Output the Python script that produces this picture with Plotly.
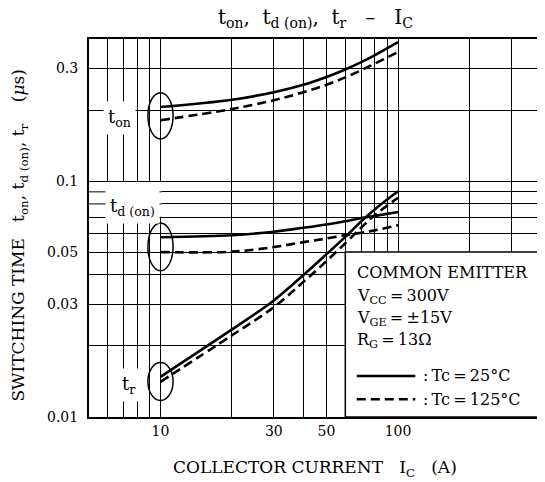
import numpy as np
import plotly.graph_objects as go

# ---- data ----
ic = [10, 20, 30, 40, 50, 60, 70, 80, 100]
t_on_25 = [0.206, 0.221, 0.238, 0.256, 0.276, 0.297, 0.319, 0.342, 0.388]
t_on_125 = [0.181, 0.202, 0.220, 0.238, 0.256, 0.275, 0.295, 0.315, 0.352]
td_on_25 = [0.0578, 0.0589, 0.0610, 0.0634, 0.0655, 0.0676, 0.0697, 0.0712, 0.0739]
td_on_125 = [0.0500, 0.0502, 0.0525, 0.0551, 0.0571, 0.0590, 0.0604, 0.0618, 0.0650]
tr_25 = [0.0148, 0.0235, 0.0312, 0.0400, 0.0490, 0.0580, 0.0675, 0.0760, 0.0905]
tr_125 = [0.0141, 0.0222, 0.0292, 0.0374, 0.0458, 0.0545, 0.0635, 0.0718, 0.0850]

x_tick_vals = [10, 30, 50, 100]
x_tick_text = ["10", "30", "50", "100"]
x_minor_grid = [6, 7, 8, 9, 20, 40, 60, 70, 80, 90, 200, 300]
y_tick_vals = [0.01, 0.03, 0.05, 0.1, 0.3]
y_tick_text = ["0.01", "0.03", "0.05", "0.1", "0.3"]
y_minor_grid = [0.02, 0.04, 0.06, 0.07, 0.08, 0.09, 0.2]

FONT = "DejaVu Serif"
SOLID_W = 2.6
DASH = "9px,5px"

fig = go.Figure()
groups = [(t_on_25, t_on_125), (td_on_25, td_on_125), (tr_25, tr_125)]
for s25, s125 in groups:
    fig.add_trace(go.Scatter(x=ic, y=s25, mode="lines",
                             line=dict(color="black", width=SOLID_W, shape="spline", smoothing=1.0),
                             showlegend=False, hoverinfo="skip"))
    fig.add_trace(go.Scatter(x=ic, y=s125, mode="lines",
                             line=dict(color="black", width=SOLID_W, dash=DASH, shape="spline", smoothing=1.0),
                             showlegend=False, hoverinfo="skip"))

shapes = []
# blank patch left of the t_d(on) label: only the 0.09 / 0.08 grid lines run there
shapes.append(dict(type="rect", xref="x", yref="y", x0=5, x1=10.1, y0=0.0706, y1=0.0990,
                   fillcolor="white", line=dict(width=0), layer="between"))
for gy in (0.09, 0.08):
    shapes.append(dict(type="line", xref="x", yref="y", x0=5, x1=10.1, y0=gy, y1=gy,
                       line=dict(color="black", width=1), layer="between"))
# condition box (white, hides grid)
shapes.append(dict(type="rect", xref="x", yref="y", x0=60, x1=400, y0=0.01, y1=0.05,
                   fillcolor="white", line=dict(color="black", width=1.5), layer="between"))
# ellipses around the starting points of each pair
for s25, s125 in groups:
    hi = max(s25[0], s125[0]); lo = min(s25[0], s125[0])
    shapes.append(dict(type="circle", xref="x", yref="y", x0=ic[0] / 1.13, x1=ic[0] * 1.13,
                       y0=lo / 1.2, y1=hi * 1.15, line=dict(color="black", width=1.5), layer="above"))
# legend samples
shapes.append(dict(type="line", xref="paper", yref="paper", x0=0.5925, x1=0.722, y0=0.1085, y1=0.1085,
                   line=dict(color="black", width=SOLID_W)))
shapes.append(dict(type="line", xref="paper", yref="paper", x0=0.5925, x1=0.722, y0=0.0468, y1=0.0468,
                   line=dict(color="black", width=SOLID_W, dash=DASH)))

ann = []
def lg(v):
    return float(np.log10(v))

curve_labels = [("t<sub>on</sub>", 6.75, 0.1845), ("t<sub>d (on)</sub>", 7.6, 0.0775), ("t<sub>r</sub>", 7.35, 0.0137)]
for txt, lx, ly in curve_labels:
    ann.append(dict(x=lg(lx), y=lg(ly), xref="x", yref="y", text=txt, showarrow=False,
                    font=dict(family=FONT, size=18, color="black"), bgcolor="white", borderpad=4))

leg_lines = [("COMMON EMITTER", 0.381), ("V<sub>CC</sub>\u2009=\u2009300V", 0.320),
             ("V<sub>GE</sub>\u2009=\u2009\u00b115V", 0.260), ("R<sub>G</sub>\u2009=\u200913\u03a9", 0.203)]
for txt, yy in leg_lines:
    ann.append(dict(x=0.588, y=yy, xref="paper", yref="paper", text=txt, showarrow=False,
                    xanchor="left", yanchor="middle", font=dict(family=FONT, size=16, color="black")))
for txt, yy in [(":\u2009Tc\u2009=\u200925\u00b0C", 0.1085), (":\u2009Tc\u2009=\u2009125\u00b0C", 0.0468)]:
    ann.append(dict(x=0.735, y=yy, xref="paper", yref="paper", text=txt, showarrow=False,
                    xanchor="left", yanchor="middle", font=dict(family=FONT, size=16, color="black")))

# axis titles
ann.append(dict(x=0.5, y=-0.135, xref="paper", yref="paper", showarrow=False, yanchor="middle",
                text="COLLECTOR CURRENT\u00a0\u00a0\u00a0I<sub>C</sub>\u00a0\u00a0\u00a0(A)",
                font=dict(family=FONT, size=17, color="black")))
ann.append(dict(x=-0.154, y=0.481, xref="paper", yref="paper", showarrow=False, textangle=-90,
                xanchor="center", yanchor="middle",
                text="SWITCHING TIME\u00a0\u00a0\u00a0t<sub>on</sub>, t<sub>d (on)</sub>, t<sub>r</sub>\u00a0\u00a0\u00a0\u00a0(<i>\u03bc</i>s)",
                font=dict(family=FONT, size=17, color="black")))

# chart title as an annotation, placed just above the plot frame
ann.append(dict(x=0.5, y=1.0, xref="paper", yref="paper", showarrow=False, xanchor="center",
                yanchor="bottom", yshift=6,
                text="t<sub>on</sub>,\u00a0 t<sub>d (on)</sub>,\u00a0 t<sub>r</sub>\u00a0\u00a0\u00a0\u2013\u00a0\u00a0\u00a0I<sub>C</sub>",
                font=dict(family=FONT, size=20, color="black")))

# the page places the figure 8px from its top-left corner, so it is 8px smaller
fig.update_layout(
    width=537, height=474,
    margin=dict(l=81, r=2, t=31, b=65),
    paper_bgcolor="white", plot_bgcolor="white",
    font=dict(family=FONT, color="black"),
    shapes=shapes, annotations=ann,
)
fig.update_xaxes(type="log", range=[lg(5), lg(400)], tickvals=x_tick_vals, ticktext=x_tick_text, ticks="",
                 showgrid=True, gridcolor="black", gridwidth=1,
                 minor=dict(tickvals=x_minor_grid, showgrid=True, gridcolor="black", gridwidth=1, ticks=""),
                 showline=True, mirror=True, linecolor="black", linewidth=2,
                 zeroline=False, tickfont=dict(family=FONT, size=14, color="black"))
fig.update_yaxes(type="log", range=[-2, lg(0.4)], tickvals=y_tick_vals, ticktext=y_tick_text, ticks="",
                 showgrid=True, gridcolor="black", gridwidth=1,
                 minor=dict(tickvals=y_minor_grid, showgrid=True, gridcolor="black", gridwidth=1, ticks=""),
                 showline=True, mirror=True, linecolor="black", linewidth=2,
                 zeroline=False, ticklabelstandoff=6,
                 tickfont=dict(family=FONT, size=14, color="black"))

fig.write_html("out.html")
